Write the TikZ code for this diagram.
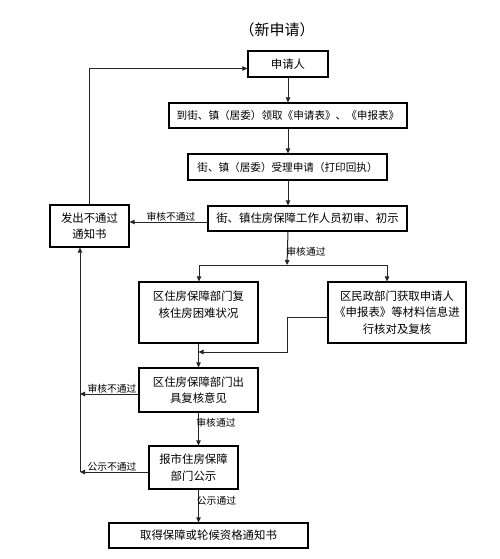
\documentclass[tikz,border=0pt]{standalone}
\usepackage{fontspec}
\setmainfont{Noto Sans CJK SC}
\usetikzlibrary{arrows.meta,calc}
\begin{document}
\begin{tikzpicture}[x=1pt,y=-1pt,
  box/.style={draw=black,line width=1.2pt,rectangle,inner sep=0pt,align=center,
    font=\fontsize{11.4}{16.5}\selectfont},
  conn/.style={draw=black!85,line width=1pt},
  arr/.style={conn,-{Triangle[length=5pt,width=4.5pt]}},
  lab/.style={font=\fontsize{9.8}{11}\selectfont,inner sep=0pt}]
\useasboundingbox[fill=white] (0,0) rectangle (500,559);
% title
\node[font=\fontsize{15}{18}\selectfont] (title) at (277,30) {（新申请）};
% boxes
\node[box,minimum width=80pt,minimum height=26pt] (apl) at (288,64) {申请人};
\node[box,minimum width=238pt,minimum height=25pt,font=\fontsize{10.6}{14}\selectfont] (b2) at (288,115.5) {到街、镇（居委）领取《申请表》、《申报表》};
\node[box,minimum width=199pt,minimum height=26pt,font=\fontsize{10.6}{14}\selectfont] (b3) at (287.5,167) {街、镇（居委）受理申请（打印回执）};
\node[box,minimum width=199pt,minimum height=25pt] (b4) at (307.5,218.5) {街、镇住房保障工作人员初审、初示};
\node[box,minimum width=79pt,minimum height=42pt] (fail) at (89.5,226) {发出不通过\\通知书};
\node[box,minimum width=119pt,minimum height=61pt] (b5) at (198.5,312.5) {区住房保障部门复\\核住房困难状况\\~};
\node[box,minimum width=138pt,minimum height=61pt] (b6) at (397,312.5) {区民政部门获取申请人\\《申报表》等材料信息进\\行核对及复核};
\node[box,minimum width=119pt,minimum height=44pt] (b7) at (198.5,390) {区住房保障部门出\\具复核意见};
\node[box,minimum width=89pt,minimum height=43pt] (b8) at (193.5,467.5) {报市住房保障\\部门公示};
\node[box,minimum width=199pt,minimum height=25pt] (b9) at (208.5,535.5) {取得保障或轮候资格通知书};
% coordinates
\coordinate (split) at (287,265);
\coordinate (sl) at (199,265);
\coordinate (sr) at (387,265);
\coordinate (f1) at ($(b4.west)+(0,3.5)$);
\coordinate (ap) at ($(apl.west)+(0,4.5)$);
\coordinate (m1) at ($(b6.west)+(0,4.5)$);
\coordinate (mk) at (287,352);
\coordinate (b7w) at ($(b7.west)+(0,4)$);
\coordinate (b8w) at ($(b8.west)+(0,4.5)$);
\coordinate (r7) at (80,394);
\coordinate (rb) at (80,472);
% connectors
\draw[arr] (apl.south) -- (apl.south |- b2.north);
\draw[arr] (apl.south |- b2.south) -- (apl.south |- b3.north);
\draw[arr] (apl.south |- b3.south) -- (apl.south |- b4.north);
\draw[arr] (apl.south |- b4.south) -- (split);
\draw[conn] (sl) -- (sr);
\draw[arr] (sl) -- (sl |- b5.north);
\draw[arr] (sr) -- (sr |- b6.north);
\draw[arr] (f1) -- (f1 -| fail.east);
\draw[arr] (fail.north) |- (ap);
\draw[arr] (m1) -| (mk) -- (mk -| b5.south);
\draw[arr] (b5.south) -- (b7.north);
\draw[arr] (b7w) -- (r7);
\draw[arr] (b8w) -- (rb);
\draw[arr] (rb) -- (rb |- fail.south);
\draw[arr] (b7.south) -- (b7.south |- b8.north);
\draw[arr] (b7.south |- b8.south) -- (b7.south |- b9.north);
% labels
\node[lab] (l1) at (171,216.5) {审核不通过};
\node[lab] (l2) at (306,252) {审核通过};
\node[lab] (l3) at (112,389) {审核不通过};
\node[lab] (l4) at (216,423) {审核通过};
\node[lab] (l5) at (112,466.5) {公示不通过};
\node[lab] (l6) at (216.5,501) {公示通过};
\end{tikzpicture}
\end{document}
